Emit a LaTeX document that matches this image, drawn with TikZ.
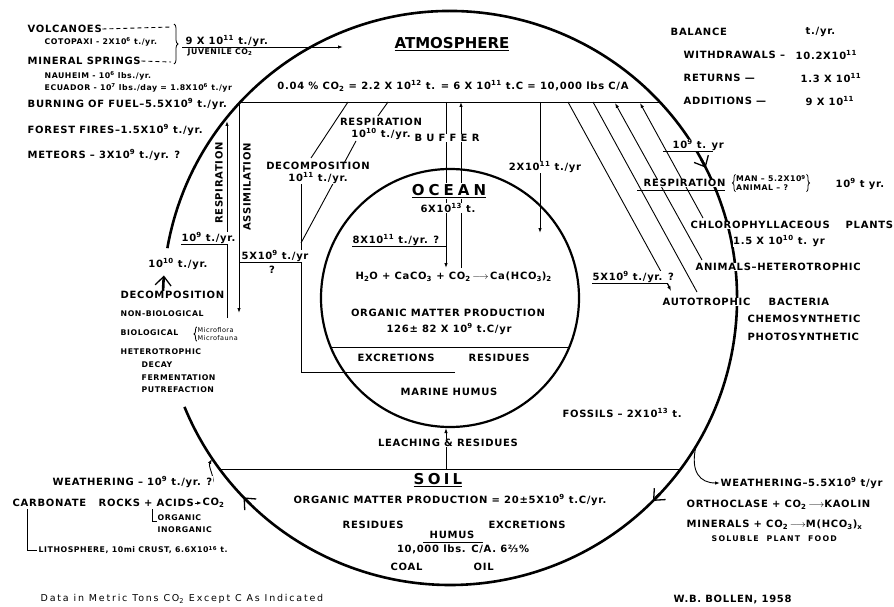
\documentclass[tikz,border=0pt]{standalone}
\usepackage{fontspec}
\setmainfont{DejaVu Sans}
\newfontfamily\letr{DejaVu Sans}[LetterSpace=7]
\newfontfamily\ttlf{DejaVu Sans}
\usetikzlibrary{arrows.meta,decorations.pathreplacing,backgrounds}
\newcommand{\pwr}[1]{\textsuperscript{#1}}
\newcommand{\lwr}[1]{\textsubscript{#1}}

\begin{document}
\begin{tikzpicture}[x=1pt, y=1pt, line cap=round,
    lbl/.style={font=\letr\bfseries\fontsize{10}{11.5}\selectfont, inner sep=0.5pt, fill=white},
    sml/.style={font=\letr\bfseries\fontsize{7.8}{9}\selectfont, inner sep=0.5pt, fill=white},
    ttl/.style={font=\ttlf\bfseries\fontsize{15}{17}\selectfont, inner sep=1pt, fill=white},
    rim/.style={line width=2.6pt},
    ln/.style={line width=0.9pt},
    tip/.style={-{Latex[length=5pt,width=3.5pt]}},
    barb/.style={-{Straight Barb[length=9pt,width=16pt,line width=1.3pt]}},
    brc/.style={decorate, decoration={brace, amplitude=4pt}, line width=0.8pt}]
  \useasboundingbox (0,0) rectangle (894,-607);
  \coordinate (ctr) at (450,-298);

  % sources of juvenile CO2
  \node[lbl, anchor=west] (vol) at (27,-29) {VOLCANOES};
  \node[sml, anchor=west] (cotopaxi) at (44,-42) {COTOPAXI - 2X10\pwr{6} t./yr.};
  \node[lbl, anchor=west] (minsp) at (27,-61) {MINERAL SPRINGS};
  \node[sml, anchor=west] (nauheim) at (44,-76) {NAUHEIM - 10\pwr{6} lbs./yr.};
  \node[sml, anchor=west] (ecuador) at (44,-88) {ECUADOR - 10\pwr{7} lbs./day = 1.8X10\pwr{6} t./yr};
  \node[lbl, anchor=south west] (juvamt) at (185,-47) {9 X 10\pwr{11} t./yr.};
  \node[sml, anchor=north west] (juvco) at (187,-48) {JUVENILE CO\lwr{2}};
  \node[lbl, anchor=west] (fuel) at (27,-104) {BURNING OF FUEL–5.5X10\pwr{9} t./yr.};
  \node[lbl, anchor=west] (fires) at (27,-130) {FOREST FIRES–1.5X10\pwr{9} t./yr.};
  \node[lbl, anchor=west] (meteors) at (27,-155) {METEORS – 3X10\pwr{9} t./yr. ?};

  % atmosphere
  \node[ttl] (atm) at (452,-44) {\underline{ATMOSPHERE}};
  \node[lbl] (conc) at (453,-86) {0.04 \% CO\lwr{2} = 2.2 X 10\pwr{12} t. = 6 X 10\pwr{11} t.C = 10,000 lbs C/A};

  % balance
  \node[lbl, anchor=west] (bal) at (670,-32) {BALANCE};
  \node[lbl, anchor=west] (baltyr) at (805,-32) {t./yr.};
  \node[lbl, anchor=west] (withd) at (683,-55) {WITHDRAWALS –};
  \node[lbl, anchor=west] (withdamt) at (795,-55) {10.2X10\pwr{11}};
  \node[lbl, anchor=west] (retn) at (683,-78) {RETURNS —};
  \node[lbl, anchor=west] (retnamt) at (800,-78) {1.3 X 10\pwr{11}};
  \node[lbl, anchor=west] (addn) at (683,-101) {ADDITIONS —};
  \node[lbl, anchor=west] (addnamt) at (805,-101) {9 X 10\pwr{11}};

  % exchange with the ocean
  \node[lbl, align=center] (resp) at (381,-129) {RESPIRATION\\10\pwr{10} t./yr.};
  \node[lbl, align=center] (decomp) at (318,-173) {DECOMPOSITION\\10\pwr{11} t./yr.};
  \node[lbl] (buffer) at (447,-138) {\addfontfeature{LetterSpace=42}BUFFER};
  \node[lbl] (amt2) at (545,-167) {2X10\pwr{11} t./yr};

  % ocean
  \node[ttl] (ocean) at (449,-191) {\addfontfeature{LetterSpace=27}\underline{OCEAN}};
  \node[lbl] (oceanamt) at (448,-208) {6X10\pwr{13} t.};
  \node[lbl, anchor=west] (amt8) at (352,-240) {8X10\pwr{11} t./yr. ?};
  \node[lbl, anchor=west] (eqn) at (355,-277) {H\lwr{2}O + CaCO\lwr{3} + CO\lwr{2}\,$\longrightarrow$\,Ca(HCO\lwr{3})\lwr{2}};
  \node[lbl] (omp) at (448,-313) {ORGANIC MATTER PRODUCTION};
  \node[lbl] (ompamt) at (449,-329) {126± 82 X 10\pwr{9} t.C/yr};
  \node[lbl, anchor=west] (excr) at (357,-358) {EXCRETIONS};
  \node[lbl, anchor=west] (resid) at (468,-358) {RESIDUES};
  \node[lbl] (mhumus) at (449,-392) {MARINE HUMUS};
  \node[lbl, anchor=west] (amt5r) at (592,-277) {5X10\pwr{9} t./yr. ?};
  \node[lbl, anchor=west] (fossils) at (562,-413) {FOSSILS – 2X10\pwr{13} t.};

  % left side: land exchange
  \node[lbl, rotate=90] (respv) at (219,-183) {RESPIRATION};
  \node[lbl, rotate=90] (assim) at (247,-187) {ASSIMILATION};
  \node[lbl, anchor=west] (amt9l) at (181,-238) {10\pwr{9} t./yr.};
  \node[lbl, anchor=west] (amt5l) at (241,-256) {5X10\pwr{9} t./yr};
  \node[lbl] (qml) at (272,-270) {?};
  \node[lbl] (amt10) at (178,-264) {10\pwr{10} t./yr.};
  \node[lbl, anchor=west] (dcmp) at (120,-295) {DECOMPOSITION};
  \node[sml, anchor=west] (nonbio) at (120,-314) {NON-BIOLOGICAL};
  \node[sml, anchor=west] (bio) at (120,-333) {BIOLOGICAL};
  \node[sml, anchor=west, align=left, font=\letr\fontsize{6.5}{8}\selectfont] (micro) at (197,-334) {Microflora\\Microfauna};
  \node[sml, anchor=west] (hetero) at (120,-352) {HETEROTROPHIC};
  \node[sml, anchor=west] (decay) at (141,-365) {DECAY};
  \node[sml, anchor=west] (ferm) at (141,-378) {FERMENTATION};
  \node[sml, anchor=west] (putre) at (141,-390) {PUTREFACTION};

  % right side: living things
  \node[lbl, anchor=west] (amt9r) at (672,-145) {10\pwr{9} t. yr};
  \node[lbl, anchor=west] (resp2) at (643,-183) {RESPIRATION};
  \node[sml, align=left] (manan) at (771,-183) {MAN – 5.2X10\pwr{9}\\ANIMAL – ?};
  \node[lbl, anchor=west] (amt9m) at (835,-184) {10\pwr{9} t yr.};
  \node[lbl, anchor=west] (chloro) at (690,-225) {CHLOROPHYLLACEOUS};
  \node[lbl, anchor=west] (plants) at (845,-225) {PLANTS};
  \node[lbl] (chlamt) at (779,-241) {1.5 X 10\pwr{10} t. yr};
  \node[lbl, anchor=west] (animals) at (695,-267) {ANIMALS–HETEROTROPHIC};
  \node[lbl, anchor=west] (auto) at (662,-302) {AUTOTROPHIC};
  \node[lbl, anchor=west] (bact) at (768,-302) {BACTERIA};
  \node[lbl, anchor=west] (chemo) at (747,-319) {CHEMOSYNTHETIC};
  \node[lbl, anchor=west] (photo) at (747,-337) {PHOTOSYNTHETIC};

  % soil
  \node[lbl] (leach) at (448,-443) {LEACHING \& RESIDUES};
  \node[ttl] (soil) at (438,-480) {\addfontfeature{LetterSpace=22}\underline{SOIL}};
  \node[lbl] (somp) at (450,-500) {ORGANIC MATTER PRODUCTION = 20±5X10\pwr{9} t.C/yr.};
  \node[lbl, anchor=west] (sres) at (342,-525) {RESIDUES};
  \node[lbl, anchor=west] (sexc) at (488,-525) {EXCRETIONS};
  \node[lbl] (humus) at (452,-535) {HUMUS};
  \node[lbl] (humamt) at (463,-549) {10,000 lbs. C/A. 6⅔\%};
  \node[lbl, anchor=west] (coal) at (390,-567) {COAL};
  \node[lbl, anchor=west] (oil) at (473,-567) {OIL};

  % weathering, lower left
  \node[lbl, anchor=west] (weathl) at (52,-482) {WEATHERING – 10\pwr{9} t./yr. ?};
  \node[lbl, anchor=west] (carb) at (12,-503) {CARBONATE};
  \node[lbl, anchor=west] (rocks) at (98,-503) {ROCKS + ACIDS};
  \node[lbl, anchor=west] (co2l) at (202,-503) {CO\lwr{2}};
  \node[sml, anchor=west] (orgc) at (157,-518) {ORGANIC};
  \node[sml, anchor=west] (inorg) at (157,-530) {INORGANIC};
  \node[sml, anchor=west] (litho) at (38,-550) {LITHOSPHERE, 10mi CRUST, 6.6X10\pwr{16} t.};
  \node[anchor=west, inner sep=0.5pt, font=\letr\fontsize{9.5}{11}\selectfont\addfontfeature{LetterSpace=19}] (data) at (40,-599) {Data in Metric Tons CO\lwr{2} Except C As Indicated};

  % weathering, lower right
  \node[lbl, anchor=west] (weathr) at (720,-483) {WEATHERING–5.5X10\pwr{9} t/yr};
  \node[lbl, anchor=west] (ortho) at (686,-505) {ORTHOCLASE + CO\lwr{2}\,$\longrightarrow$KAOLIN};
  \node[lbl, anchor=west] (miner) at (686,-525) {MINERALS + CO\lwr{2}\,$\longrightarrow$M(HCO\lwr{3})\lwr{x}};
  \node[sml, anchor=west] (soluble) at (711,-539) {\addfontfeature{LetterSpace=16}SOLUBLE \ PLANT \ FOOD};
  \node[lbl, anchor=west] (bollen) at (673,-599) {W.B. BOLLEN, 1958};

  \begin{scope}[on background layer]
    % outer ring, broken at its arrowheads
    \draw[rim, barb] (ctr) ++(170:287) arc[start angle=170, end angle=27, radius=287];
    \draw[rim, barb] (ctr) ++(29:287) arc[start angle=29, end angle=-45, radius=287];
    \draw[rim, barb] (ctr) ++(-43:287) arc[start angle=-43, end angle=-136, radius=287];
    \draw[rim] (ctr) ++(-134:287) arc[start angle=-134, end angle=-157.7, radius=287];
    \draw[rim, barb] (ctr) ++(179.5:287) arc[start angle=179.5, end angle=175.5, radius=287];
    % ocean
    \draw[line width=2.2pt] (ctr) circle[radius=129];
    % chords
    \draw[ln] (240,-102) -- (660,-102);
    \draw[ln] (219.5,-469) -- (680.5,-469);
    \draw[ln] (331,-347) -- (569,-347);
    % juvenile CO2
    \draw[ln, dash pattern=on 4pt off 3pt] (vol.east) -- (171,-27);
    \draw[ln, dash pattern=on 4pt off 3pt] (minsp.east) -- (171,-62);
    \draw[brc] (174,-24) -- (174,-64);
    \draw[ln, tip] (182,-47) -- (343,-47);
    % land side
    \draw[ln, tip] (227,-318) -- (227,-121);
    \draw[ln, tip] (239,-104) -- (239,-313);
    \draw[ln] (181,-244) -- (227,-244);
    \draw[ln] (240,-262) -- (301,-262);
    \draw[brc, decoration={amplitude=3pt}] (micro.south west) -- (micro.north west);
    % ocean paths
    \draw[ln] (455,-372) -- (301,-372) -- (301,-178);
    \draw[ln] (301,-243) -- (356,-141);
    \draw[ln] (378,-116) -- (388,-102);
    \draw[ln] (311,-158) -- (348,-102);
    \draw[ln, tip] (446,-102) -- (446,-268);
    \draw[ln, tip] (461,-268) -- (461,-102);
    \draw[ln] (352,-246) -- (446,-246);
    \draw[ln, tip] (540,-102) -- (540,-233);
    \draw[ln, tip] (446,-469) -- (446,-428);
    % living things
    \draw[ln] (568,-102) -- (670,-288);
    \draw[ln] (593,-102) -- (697,-292);
    \draw[ln, {Latex[length=5pt,width=3.5pt]}-] (615,-103) -- (702,-260);
    \draw[ln, {Latex[length=5pt,width=3.5pt]}-] (640,-103) -- (703,-218);
    \draw[ln] (592,-283) -- (667,-283);
    \draw[ln, tip] (667,-283) -- (671,-291);
    \draw[ln] (663,-151) -- (713,-151);
    \draw[ln] (637,-190) -- (725,-190);
    \draw[brc, decoration={amplitude=3pt}] (manan.south west) -- (manan.north west);
    \draw[brc, decoration={amplitude=3pt}] (manan.north east) -- (manan.south east);
    % soil and rocks
    \draw[ln] (423,-542) -- (483,-542);
    \draw[ln, tip] (weathl.east) .. controls (214,-476) and (208,-466) .. (212,-459);
    \draw[ln, tip] (696,-446) .. controls (690,-472) and (700,-483) .. (weathr.west);
    \draw[ln, tip] (rocks.east) -- (co2l.west);
    \draw[ln] (152,-509) -- (152,-521) -- (157,-521);
    \draw[ln] (27,-509) -- (27,-550) -- (37,-550);
  \end{scope}
\end{tikzpicture}
\end{document}
